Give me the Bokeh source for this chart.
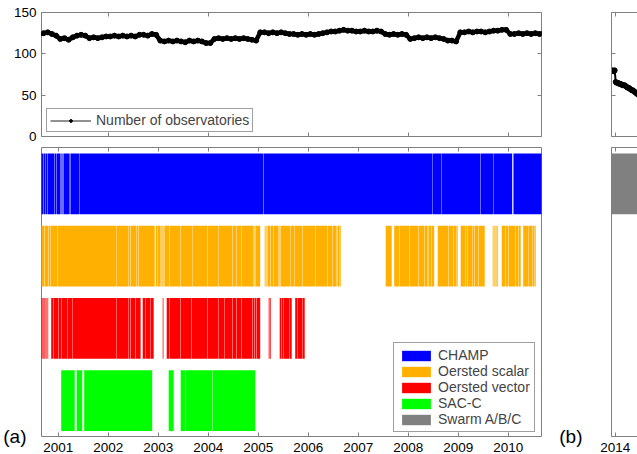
import numpy as np
from bokeh.plotting import figure
from bokeh.layouts import row, column
from bokeh.models import (Range1d, LinearAxis, FixedTicker, Legend, LegendItem,
                          CustomLabelingPolicy)
from bokeh.embed import file_html
from bokeh.resources import INLINE

FONT = "Liberation Sans"
AX = "#808080"

# ---------------- data ----------------
# monthly number of observatories, Aug 2000 .. Sep 2010 (mid-month samples)
obs_first_month = 2000 + 7.5 / 12
obs_counts = [
    124, 125, 126, 124, 122,
    118, 119, 117, 120, 122, 123, 122, 119, 120, 119, 120, 121,
    121, 122, 121, 122, 121, 122, 121, 123, 123, 122, 124, 123,
    116, 115, 116, 115, 116, 115, 114, 116, 115, 116, 115, 113,
    113, 118, 119, 118, 119, 118, 119, 118, 119, 118, 117, 116,
    126, 126, 125, 126, 125, 126, 125, 124, 124, 123, 124, 123,
    124, 123, 124, 125, 126, 127, 127, 128, 129, 128, 128, 127,
    127, 128, 127, 127, 128, 127, 124, 123, 124, 123, 124, 123,
    118, 119, 120, 119, 120, 119, 120, 119, 118, 116, 116, 115,
    126, 126, 127, 126, 127, 127, 126, 127, 128, 128, 129, 129,
    124, 124, 125, 124, 125, 124, 125, 124, 125,
]
# Swarm era (panel b)
obs_b_years = [2013.93, 2013.945, 2013.96, 2013.975, 2013.99, 2014.01, 2014.03, 2014.05,
               2014.07, 2014.09, 2014.11, 2014.13, 2014.15, 2014.17, 2014.19, 2014.21,
               2014.23, 2014.25, 2014.27, 2014.29, 2014.31, 2014.33, 2014.35, 2014.37,
               2014.39, 2014.41, 2014.43, 2014.45, 2014.47, 2014.49, 2014.51]
obs_b_counts = [79, 80, 79, 79, 80, 66, 65, 65, 64, 64, 63, 63, 62, 62, 62, 61,
                60, 59, 59, 58, 57, 56, 56, 55, 54, 53, 52, 51, 50, 49, 48]

# satellite data coverage: spans of data and single-day gaps (decimal years)
champ_spans = [(2000.60, 2010.08), (2010.105, 2010.75)]
champ_gaps = [2000.71, 2000.74, 2000.79, 2000.93, 2000.97, 2001.05, 2001.07, 2001.09,
              2001.11, 2001.22, 2001.25, 2001.42, 2005.11, 2008.48, 2008.66, 2009.45, 2009.70]

scalar_spans = [(2000.60, 2002.93), (2002.95, 2005.04), (2005.13, 2006.65), (2007.55, 2007.67),
                (2007.72, 2008.52), (2008.59, 2008.99), (2009.05, 2009.53), (2009.69, 2009.79),
                (2009.87, 2010.25), (2010.30, 2010.55)]
scalar_gaps = [2000.73, 2000.81, 2000.84, 2000.98, 2002.16, 2002.40, 2002.45, 2002.56, 2002.61,
               2002.99, 2003.04, 2003.06, 2003.08, 2003.10, 2003.12, 2003.23, 2003.45, 2003.68,
               2003.99, 2004.20, 2004.49, 2004.57, 2004.67, 2004.91, 2004.93, 2004.95, 2005.15,
               2005.17, 2005.19, 2005.25, 2005.31, 2005.41, 2005.43, 2005.45, 2005.64, 2005.72,
               2005.89, 2006.15, 2006.39, 2006.49, 2006.56, 2006.59, 2006.62, 2007.83, 2008.03,
               2008.21, 2008.33, 2008.38, 2008.41, 2008.47, 2008.81, 2008.91, 2008.96, 2009.15,
               2009.19, 2009.28, 2009.33, 2009.41, 2009.71, 2009.73, 2009.75, 2009.77, 2009.95,
               2010.01, 2010.15, 2010.21, 2010.40, 2010.48, 2010.53]

vector_spans = [(2000.60, 2000.80), (2000.86, 2002.648), (2002.69, 2002.91), (2003.09, 2003.105),
                (2003.17, 2005.04), (2005.21, 2005.25), (2005.43, 2005.67), (2005.74, 2005.93)]
vector_gaps = [2000.68, 2000.70, 2000.72, 2000.745, 2000.765, 2000.785, 2000.91, 2001.01,
               2001.07, 2001.18, 2001.28, 2002.16, 2002.40, 2002.45, 2002.55, 2002.74, 2002.84,
               2003.23, 2003.45, 2003.67, 2003.99, 2004.20, 2004.32, 2004.49, 2004.57, 2004.67,
               2004.89, 2004.93, 2004.97, 2005.23, 2005.47, 2005.50, 2005.62, 2005.78, 2005.88]

sacc_spans = [(2001.06, 2001.33), (2001.37, 2001.48), (2001.52, 2002.88), (2003.21, 2003.31),
              (2003.45, 2004.94)]
sacc_gaps = [2003.55, 2004.09]

swarm_spans = [(2013.90, 2014.60)]
swarm_gaps = []

satellites = ["CHAMP", "Oersted scalar", "Oersted vector", "SAC-C", "Swarm A/B/C"]
sat_rows = [3, 2, 1, 0, 3]
sat_colors = ["#0000FF", "#FFB000", "#FF0000", "#00FF00", "#808080"]
sat_spans = [champ_spans, scalar_spans, vector_spans, sacc_spans, swarm_spans]
sat_gaps = [champ_gaps, scalar_gaps, vector_gaps, sacc_gaps, swarm_gaps]

years_a = [2001, 2002, 2003, 2004, 2005, 2006, 2007, 2008, 2009, 2010]
years_a_top = [2002, 2004, 2006, 2008, 2010]
years_b = [2014]
count_ticks = [0, 50, 100, 150]
panel_tags = ["(a)", "(b)"]


def build(spans, gaps, gw=0.007):
    lefts, rights = [], []
    for s, e in spans:
        a = s
        for g in sorted(x for x in gaps if s < x < e):
            lefts.append(a)
            rights.append(g - gw / 2)
            a = g + gw / 2
        lefts.append(a)
        rights.append(e)
    return lefts, rights


obs_years = obs_first_month + np.arange(len(obs_counts)) / 12.0


def make_fig(xr, yr, fw, fh, left, right, top, bottom):
    p = figure(frame_width=fw, frame_height=fh, x_range=xr, y_range=yr,
               output_backend="svg", toolbar_location=None,
               x_axis_location=None, y_axis_location=None,
               min_border_left=left, min_border_right=right,
               min_border_top=top, min_border_bottom=bottom)
    p.grid.visible = False
    p.background_fill_color = "white"
    p.border_fill_color = "white"
    return p


def add_axis(p, side, ticks, labels=False, line=False):
    ax = LinearAxis(ticker=FixedTicker(ticks=ticks))
    ax.major_tick_in = 4
    ax.major_tick_out = 0
    ax.minor_tick_line_color = None
    ax.major_tick_line_color = AX
    ax.axis_line_color = AX if line else None
    ax.major_label_text_font = FONT
    ax.major_label_text_color = "black"
    if labels:
        ax.major_label_text_font_size = "13.5px"
        ax.major_label_standoff = 6 if side == "below" else 5
    else:
        ax.major_label_text_font_size = "0px"
        ax.major_label_standoff = 0
        ax.major_label_policy = CustomLabelingPolicy(code="return new Set()")
    p.add_layout(ax, side)
    return ax


def add_tag(p, text, standoff):
    # panel tag "(a)"/"(b)" written as a horizontal label at the bottom-left corner
    ax = LinearAxis(ticker=FixedTicker(ticks=[0]))
    ax.major_label_overrides = {0: text}
    ax.major_label_orientation = "horizontal"
    ax.major_label_text_font = FONT
    ax.major_label_text_font_size = "19px"
    ax.major_label_text_color = "black"
    ax.major_label_standoff = standoff
    ax.major_tick_line_color = None
    ax.minor_tick_line_color = None
    ax.axis_line_color = None
    p.add_layout(ax, "left")


XA = Range1d(2000.666, 2010.666)
XB = Range1d(2013.926, 2014.506)

# ---------------- panel (a) top ----------------
ta = make_fig(XA, Range1d(0, 150), 500, 124, 41, 15, 12, 9)
ta.outline_line_color = AX
add_axis(ta, "left", count_ticks, labels=True)
add_axis(ta, "right", count_ticks)
add_axis(ta, "below", years_a_top)
add_axis(ta, "above", years_a_top)
thin = ta.line(obs_years, obs_counts, line_color="#222222", line_width=1)
dots = ta.scatter(obs_years, obs_counts, size=3, color="black")
ta.line(obs_years, obs_counts, line_color="black", line_width=4.5)
ta.scatter(obs_years, obs_counts, size=5, color="black")
leg_t = Legend(items=[LegendItem(label="Number of observatories", renderers=[thin, dots])],
               location=(5, 4), margin=0, padding=3, spacing=0,
               glyph_width=41, glyph_height=7, label_standoff=5,
               label_text_font=FONT, label_text_font_size="14px",
               border_line_color="#404040", border_line_width=1,
               background_fill_color="white", background_fill_alpha=1)
ta.add_layout(leg_t)

# ---------------- panel (a) bottom ----------------
ba = make_fig(XA, Range1d(0, 4), 500, 289, 41, 15, 2, 18)
ba.outline_line_color = AX
add_axis(ba, "below", years_a, labels=True)
add_axis(ba, "above", years_a)
add_tag(ba, panel_tags[0], 9)
items = []
for name, r, c, sp, gp in zip(satellites, sat_rows, sat_colors, sat_spans, sat_gaps):
    L, R = build(sp, gp)
    q = ba.quad(left=L, right=R, bottom=r + 0.075, top=r + 0.918,
                fill_color=c, line_color=None)
    items.append(LegendItem(label=name, renderers=[q]))
leg_b = Legend(items=items, location=(352, 4), margin=0, padding=4, spacing=0,
               glyph_width=36, glyph_height=13, label_standoff=4, label_height=13,
               label_text_font=FONT, label_text_font_size="14px",
               border_line_color="#404040", border_line_width=1,
               background_fill_color="white", background_fill_alpha=1)
ba.add_layout(leg_b)

# ---------------- panel (b) top ----------------
tb = make_fig(XB, Range1d(0, 150), 29, 124, 52, 0, 12, 9)
tb.outline_line_color = None
add_axis(tb, "left", count_ticks, line=True)
add_axis(tb, "below", years_b, line=True)
add_axis(tb, "above", years_b, line=True)
tb.line(obs_b_years, obs_b_counts, line_color="black", line_width=2)
tb.scatter(obs_b_years, obs_b_counts, size=5, color="black")

# ---------------- panel (b) bottom ----------------
bb = make_fig(XB, Range1d(0, 4), 29, 289, 52, 0, 2, 18)
bb.outline_line_color = None
add_axis(bb, "left", [], line=True)
add_axis(bb, "below", years_b, labels=True, line=True)
add_axis(bb, "above", years_b, line=True)
add_tag(bb, panel_tags[1], 23)
for name, r, c, sp, gp in zip(satellites, sat_rows, sat_colors, sat_spans, sat_gaps):
    L, R = build(sp, gp)
    bb.quad(left=L, right=R, bottom=r + 0.075, top=r + 0.918, fill_color=c, line_color=None)

p = row(column(ta, ba), column(tb, bb))
open("out.html", "w").write(file_html(p, INLINE))
